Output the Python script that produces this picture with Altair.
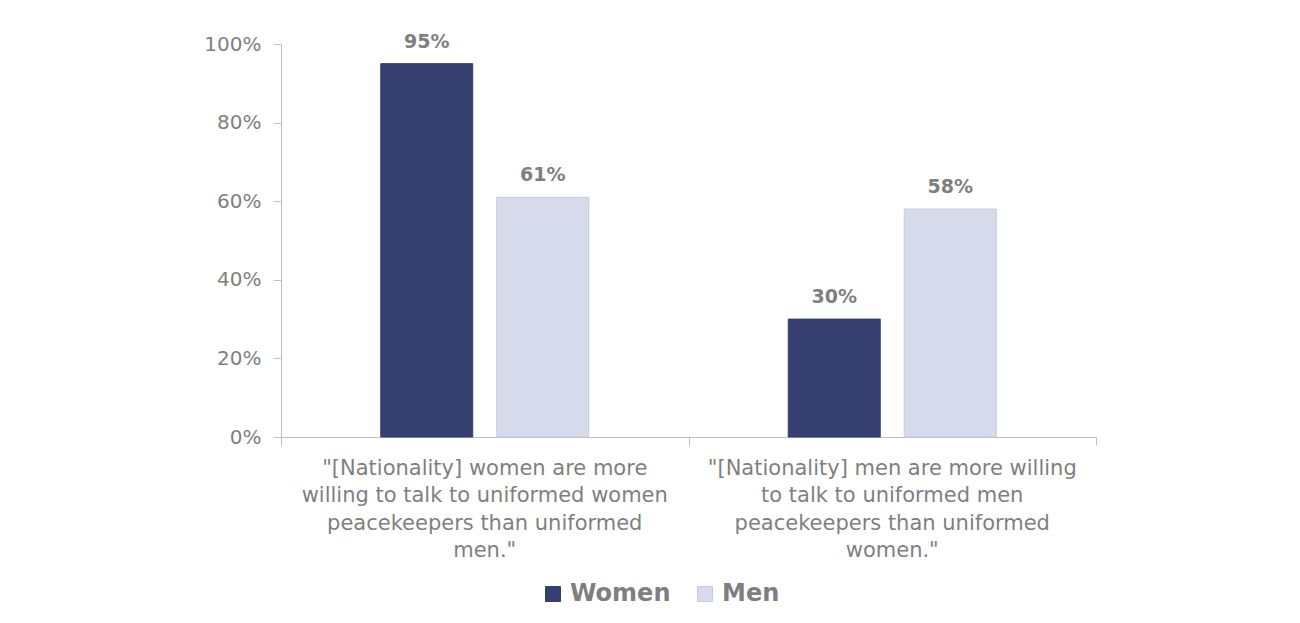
import altair as alt
import pandas as pd

# ---- data ----
categories = [
    '"[Nationality] women are more willing to talk to uniformed women peacekeepers than uniformed men."',
    '"[Nationality] men are more willing to talk to uniformed men peacekeepers than uniformed women."',
]
category_lines = [
    ['"[Nationality] women are more', 'willing to talk to uniformed women', 'peacekeepers than uniformed', 'men."'],
    ['"[Nationality] men are more willing', 'to talk to uniformed men', 'peacekeepers than uniformed', 'women."'],
]
groups = ["Women", "Men"]
women_values = [0.95, 0.30]
men_values = [0.61, 0.58]
y_ticks = [0, 0.2, 0.4, 0.6, 0.8, 1.0]
category_boundaries = [0, 1, 2]

rows = []
for i, c in enumerate(categories):
    rows.append({"question": c, "group": "Women", "value": women_values[i]})
    rows.append({"question": c, "group": "Men", "value": men_values[i]})
df = pd.DataFrame(rows)

def arr(lines):
    return "[" + ",".join("'" + l + "'" for l in lines) + "]"

label_expr = f"datum.label == '{categories[0]}' ? {arr(category_lines[0])} : {arr(category_lines[1])}"

FONT = "DejaVu Sans"
GRAY = "#7F7F7F"
AXIS = "#BFBFBF"

base = alt.Chart(df).encode(
    x=alt.X(
        "question:N",
        sort=categories,
        scale=alt.Scale(paddingInner=0, paddingOuter=0),
        axis=alt.Axis(
            title=None,
            labelAngle=0,
            ticks=False,
            labelExpr=label_expr,
            labelLineHeight=27.5,
            labelFontSize=21,
            labelFont=FONT,
            labelColor=GRAY,
            labelLimit=500,
            labelPadding=20,
            domainColor=AXIS,
            labelBaseline="top",
        ),
    ),
    xOffset=alt.XOffset(
        "group:N",
        sort=groups,
        scale=alt.Scale(paddingInner=0.207, paddingOuter=0.86),
    ),
)

bars = base.mark_bar(strokeWidth=1).encode(
    y=alt.Y(
        "value:Q",
        scale=alt.Scale(domain=[0, 1]),
        axis=alt.Axis(
            title=None,
            values=y_ticks,
            format=".0%",
            grid=False,
            labelFontSize=20,
            labelFont=FONT,
            labelColor=GRAY,
            labelPadding=12,
            domainColor=AXIS,
            tickColor=AXIS,
            tickSize=8,
        ),
    ),
    color=alt.Color(
        "group:N",
        sort=groups,
        scale=alt.Scale(domain=groups, range=["#353F70", "#D6DBEC"]),
        legend=alt.Legend(
            title=None,
            orient="none",
            direction="horizontal",
            legendX=260,
            legendY=538,
            symbolType="square",
            symbolSize=225,
            symbolStrokeWidth=1,
            labelFontSize=24,
            labelFontWeight="bold",
            labelFont=FONT,
            labelColor=GRAY,
            columnPadding=22,
            labelOffset=5,
            padding=0,
        ),
    ),
    stroke=alt.Stroke(
        "group:N",
        sort=groups,
        scale=alt.Scale(domain=groups, range=["#353F70", "#C5CBE0"]),
        legend=None,
    ),
)

labels = base.mark_text(
    baseline="bottom",
    dy=-12,
    fontSize=19,
    fontWeight="bold",
    font=FONT,
    color=GRAY,
).encode(
    y=alt.Y("value:Q"),
    text=alt.Text("value:Q", format=".0%"),
)

# category boundary ticks on the x axis
boundary_ticks = alt.Chart(pd.DataFrame({"b": category_boundaries})).mark_point(opacity=0).encode(
    x=alt.X(
        "b:Q",
        scale=alt.Scale(domain=[0, 2], nice=False, zero=False),
        axis=alt.Axis(
            title=None,
            orient="bottom",
            values=category_boundaries,
            labels=False,
            domain=False,
            grid=False,
            tickColor=AXIS,
            tickSize=8,
        ),
    ),
)

chart = (
    alt.layer(alt.layer(bars, labels), boundary_ticks)
    .resolve_scale(x="independent")
    .resolve_axis(x="independent")
    .properties(
        width=815,
        height=393,
        autosize=alt.AutoSizeParams(type="none"),
        padding={"left": 273, "top": 36, "right": 196, "bottom": 176},
    )
    .configure_view(stroke=None)
)

chart.save("out.html", embed_options={"renderer": "svg", "actions": False})
